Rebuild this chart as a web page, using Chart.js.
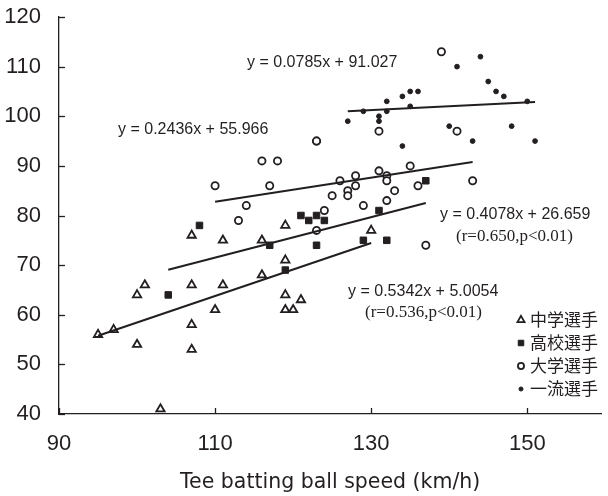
<!DOCTYPE html>
<html>
<head>
<meta charset="utf-8">
<script src="https://cdn.jsdelivr.net/npm/chart.js@4.4.0/dist/chart.umd.min.js"></script>
<style>
  html, body { margin: 0; padding: 0; background: #fff; }
</style>
</head>
<body>
<canvas id="chart" width="608" height="496"></canvas>
<script>
// groups (legend order)
var groupNames = ['中学選手', '高校選手', '大学選手', '一流選手'];

// 中学選手
var juniorX = [95, 97, 100, 100, 101, 103, 107, 107, 107, 107, 110, 111, 111, 116, 116, 119, 119, 119, 119, 120, 121, 130];
var juniorY = [56, 57, 54, 64, 66, 41, 76, 66, 58, 53, 61, 75, 66, 75, 68, 78, 71, 64, 61, 61, 63, 77];
// 高校選手
var highX = [104, 108, 117, 119, 121, 122, 123, 124, 123, 129, 132, 131, 137];
var highY = [64, 78, 74, 69, 80, 79, 80, 79, 74, 75, 75, 81, 87];
// 大学選手
var univX = [110, 113, 114, 116, 117, 118, 123, 123, 124, 123, 125, 126, 127, 127, 128, 128, 129, 131, 131, 132, 132, 132, 133, 135, 136, 137, 139, 141, 143];
var univY = [86, 79, 82, 91, 86, 91, 95, 77, 81, 95, 84, 87, 85, 84, 88, 86, 82, 89, 97, 88, 87, 83, 85, 90, 86, 74, 113, 97, 87];
// 一流選手
var eliteX = [127, 129, 131, 131, 132, 132, 134, 134, 135, 135, 136, 140, 141, 143, 144, 145, 146, 147, 148, 150, 151];
var eliteY = [99, 101, 100, 99, 103, 101, 104, 94, 105, 102, 105, 98, 110, 95, 112, 107, 105, 104, 98, 103, 95];

// regression lines (same order as groups)
var slopes = [0.5342, 0.4078, 0.2436, 0.0785];
var intercepts = [5.0054, 26.659, 55.966, 91.027];
var eqLabels = ['y = 0.5342x + 5.0054', 'y = 0.4078x + 26.659', 'y = 0.2436x + 55.966', 'y = 0.0785x + 91.027'];
var rLabels = ['(r=0.536,p<0.01)', '(r=0.650,p<0.01)'];

var xTicks = [90, 110, 130, 150];
var yTicks = [40, 50, 60, 70, 80, 90, 100, 110, 120];
var xTitle = 'Tee batting ball speed (km/h)';

// text placement (pixels)
var eqPos = [[348, 292], [440, 215], [118, 130], [247, 63]];
var rPos = [[365, 313], [456, 237]];
var legendPos = { markX: 521, textX: 530, top: 320, step: 23 };

var ink = '#231f20';

function pts(xs, ys) {
  return xs.map(function (x, i) { return { x: x, y: ys[i] }; });
}
function fitLine(xs, k) {
  var lo = Math.min.apply(null, xs), hi = Math.max.apply(null, xs);
  return [{ x: lo, y: slopes[k] * lo + intercepts[k] }, { x: hi, y: slopes[k] * hi + intercepts[k] }];
}

var groupsX = [juniorX, highX, univX, eliteX];
var groupsY = [juniorY, highY, univY, eliteY];
var styles = [
  { pointStyle: 'triangle', radius: 4.8, borderWidth: 1.8, fill: '#fff' },
  { pointStyle: 'rect', radius: 4.6, borderWidth: 1, fill: ink },
  { pointStyle: 'circle', radius: 3.6, borderWidth: 1.8, fill: '#fff' },
  { pointStyle: 'circle', radius: 2.4, borderWidth: 1, fill: ink }
];

var datasets = [];
groupNames.forEach(function (name, k) {
  datasets.push({
    type: 'line',
    label: 'fit' + k,
    data: fitLine(groupsX[k], k),
    borderColor: ink,
    borderWidth: 2,
    pointRadius: 0,
    fill: false
  });
});
groupNames.forEach(function (name, k) {
  datasets.push({
    type: 'scatter',
    label: name,
    data: pts(groupsX[k], groupsY[k]),
    pointStyle: styles[k].pointStyle,
    pointRadius: styles[k].radius,
    pointBorderWidth: styles[k].borderWidth,
    pointBorderColor: ink,
    pointBackgroundColor: styles[k].fill
  });
});

var extras = {
  id: 'extras',
  afterDraw: function (chart) {
    var ctx = chart.ctx;
    var xs = chart.scales.x, ys = chart.scales.y;
    ctx.save();
    // inward tick marks
    ctx.strokeStyle = ink;
    ctx.lineWidth = 1.3;
    xs.ticks.forEach(function (t) {
      var px = Math.round(xs.getPixelForValue(t.value)) + 0.5;
      ctx.beginPath(); ctx.moveTo(px, ys.bottom); ctx.lineTo(px, ys.bottom - 6); ctx.stroke();
    });
    ys.ticks.forEach(function (t) {
      var py = Math.round(ys.getPixelForValue(t.value)) + 0.5;
      ctx.beginPath(); ctx.moveTo(xs.left, py); ctx.lineTo(xs.left + 6, py); ctx.stroke();
    });
    // equations
    ctx.fillStyle = ink;
    ctx.textAlign = 'left';
    ctx.textBaseline = 'middle';
    ctx.font = '16px "Liberation Sans", Arial, sans-serif';
    eqLabels.forEach(function (s, i) { ctx.fillText(s, eqPos[i][0], eqPos[i][1]); });
    ctx.font = '17px "Liberation Serif", "Times New Roman", serif';
    rLabels.forEach(function (s, i) { ctx.fillText(s, rPos[i][0], rPos[i][1]); });
    // legend
    ctx.font = '17px "Noto Sans CJK JP", sans-serif';
    groupNames.forEach(function (name, k) {
      var y = legendPos.top + k * legendPos.step;
      ctx.fillStyle = styles[k].fill;
      ctx.strokeStyle = ink;
      ctx.lineWidth = styles[k].borderWidth;
      Chart.helpers.drawPoint(ctx, {
        pointStyle: styles[k].pointStyle,
        radius: styles[k].radius * 0.85,
        rotation: 0,
        borderWidth: styles[k].borderWidth
      }, legendPos.markX, y);
      ctx.fillStyle = ink;
      ctx.fillText(name, legendPos.textX, y);
    });
    ctx.restore();
  }
};

new Chart(document.getElementById('chart'), {
  type: 'scatter',
  data: { datasets: datasets },
  options: {
    responsive: false,
    animation: false,
    layout: { padding: { top: 17, right: 0, left: 0, bottom: 0 } },
    plugins: { legend: { display: false }, tooltip: { enabled: false } },
    scales: {
      x: {
        type: 'linear',
        min: 90,
        max: 159.5,
        afterBuildTicks: function (s) { s.ticks = xTicks.map(function (v) { return { value: v }; }); },
        afterFit: function (s) { s.height = 82; },
        grid: { drawOnChartArea: false, drawTicks: false },
        border: { color: ink, width: 1.3 },
        ticks: { color: ink, padding: 17, font: { size: 22, family: '"Liberation Sans", Arial, sans-serif' }, maxRotation: 0 },
        title: { display: true, text: xTitle, color: ink, padding: { top: 0, bottom: 1 }, font: { size: 20.5, family: '"DejaVu Sans", sans-serif' } }
      },
      y: {
        min: 40,
        max: 120,
        afterBuildTicks: function (s) { s.ticks = yTicks.map(function (v) { return { value: v }; }); },
        afterFit: function (s) { s.width = 59; s.paddingTop = 12; s.paddingBottom = 12; },
        grid: { drawOnChartArea: false, drawTicks: false },
        border: { color: ink, width: 1.3 },
        ticks: { color: ink, padding: 18, font: { size: 22, family: '"Liberation Sans", Arial, sans-serif' } }
      }
    }
  },
  plugins: [extras]
});
</script>
</body>
</html>
